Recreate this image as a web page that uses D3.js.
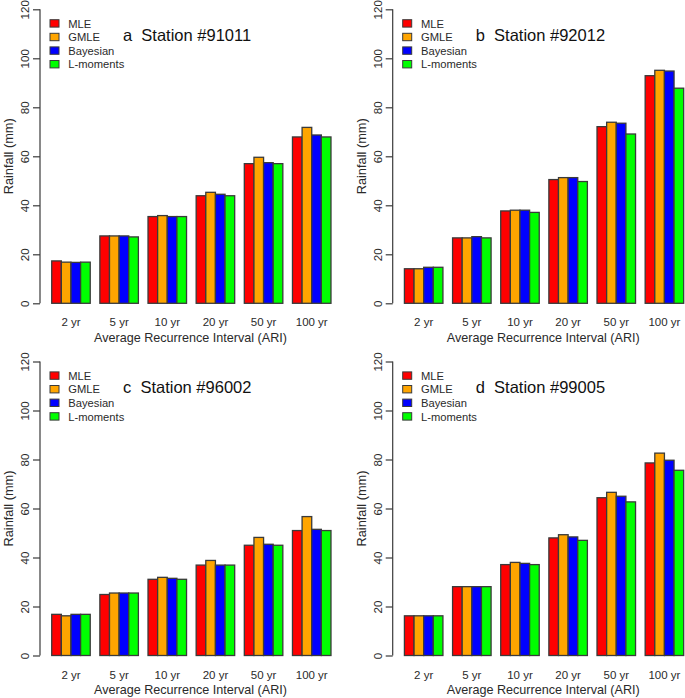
<!DOCTYPE html>
<html>
<head>
<meta charset="utf-8">
<script src="https://cdn.jsdelivr.net/npm/d3@7"></script>
<style>
  html, body { margin: 0; padding: 0; background: #fff; }
  svg { display: block; font-family: "Liberation Sans", Arial, sans-serif; }
</style>
</head>
<body>
<svg id="chart" width="685" height="698"></svg>
<script>
// ---------- data ----------
const categories = ["2 yr", "5 yr", "10 yr", "20 yr", "50 yr", "100 yr"];
const series = ["MLE", "GMLE", "Bayesian", "L-moments"];
const colors = ["#ff0000", "#ffa500", "#0000ff", "#00ff00"];
const yTicks = [0, 20, 40, 60, 80, 100, 120];

// values per station: [MLE, GMLE, Bayesian, L-moments] for each ARI
const station91011 = [
  [17.3, 16.8, 16.7, 16.8],
  [27.5, 27.5, 27.5, 27.1],
  [35.4, 35.8, 35.4, 35.4],
  [43.9, 45.3, 44.5, 43.9],
  [57.0, 59.6, 57.4, 57.0],
  [67.9, 71.8, 68.7, 67.9]
];
const station92012 = [
  [14.1, 14.1, 14.7, 14.7],
  [26.7, 26.7, 27.2, 26.7],
  [37.7, 38.0, 38.0, 37.1],
  [50.5, 51.3, 51.3, 49.7],
  [72.1, 73.9, 73.5, 69.1],
  [92.9, 95.1, 94.8, 87.8]
];
const station96002 = [
  [16.8, 16.2, 16.8, 16.8],
  [24.9, 25.5, 25.5, 25.5],
  [31.1, 31.9, 31.5, 31.1],
  [36.9, 38.8, 36.9, 36.9],
  [45.0, 48.2, 45.4, 45.0],
  [51.0, 56.7, 51.5, 51.0]
];
const station99005 = [
  [16.2, 16.2, 16.2, 16.2],
  [28.1, 28.1, 28.1, 28.1],
  [37.1, 38.0, 37.6, 37.1],
  [48.0, 49.3, 48.4, 47.0],
  [64.4, 66.6, 65.0, 62.7],
  [78.6, 82.6, 79.7, 75.6]
];

const panels = [
  { letter: "a", station: "Station #91011", data: station91011, ox: 0,     oy: 0 },
  { letter: "b", station: "Station #92012", data: station92012, ox: 352.7, oy: 0 },
  { letter: "c", station: "Station #96002", data: station96002, ox: 0,     oy: 352.2 },
  { letter: "d", station: "Station #99005", data: station99005, ox: 352.7, oy: 352.2 }
];

// ---------- drawing ----------
const svg = d3.select("#chart");
const axisCol = "#3a3a3a";
const textCol = "#2a2a2a";

panels.forEach(p => {
  const g = svg.append("g").attr("transform", `translate(${p.ox},${p.oy})`);
  const axisX = 40;
  const y = d3.scaleLinear().domain([0, 120]).range([303.3, 9.3]);
  const x0 = d3.scaleBand().domain(categories)
    .range([46.9, 335.8]).paddingInner(0.2).paddingOuter(0.1);
  const x1 = d3.scaleBand().domain(series).range([0, x0.bandwidth()]).padding(0);
  const color = d3.scaleOrdinal().domain(series).range(colors);

  // bars
  const groups = g.selectAll("g.grp").data(categories).join("g")
    .attr("class", "grp")
    .attr("transform", d => `translate(${x0(d)},0)`);
  groups.selectAll("rect").data((d, i) => series.map((s, j) => ({ s, v: p.data[i][j] })))
    .join("rect")
    .attr("x", d => x1(d.s))
    .attr("width", x1.bandwidth())
    .attr("y", d => y(d.v))
    .attr("height", d => y(0) - y(d.v))
    .attr("fill", d => color(d.s))
    .attr("stroke", axisCol)
    .attr("stroke-width", 1.3);

  // y axis
  const yAxis = d3.axisLeft(y).tickValues(yTicks).tickSize(7).tickPadding(4).tickFormat(d3.format("d"));
  const ya = g.append("g").attr("transform", `translate(${axisX},0)`).call(yAxis);
  ya.select(".domain").attr("stroke", axisCol).attr("stroke-width", 1.2)
    .attr("d", `M-0,${y(0)}V${y(120)}`);
  ya.selectAll(".tick line").attr("stroke", axisCol).attr("stroke-width", 1.2);
  ya.selectAll(".tick text")
    .attr("fill", textCol)
    .style("font-size", "11.5px")
    .attr("x", null).attr("dy", null)
    .attr("text-anchor", "middle")
    .attr("transform", "translate(-15,0) rotate(-90)")
    .attr("dy", "0.35em");

  // x tick labels (no axis line)
  const xAxis = d3.axisBottom(x0).tickSize(0).tickPadding(0);
  const xa = g.append("g").attr("transform", `translate(0,${y(0) + 15})`).call(xAxis);
  xa.select(".domain").remove();
  xa.selectAll(".tick text").attr("fill", textCol).style("font-size", "11.5px").attr("dy", "0.71em");

  // axis titles
  g.append("text")
    .attr("x", 190.5).attr("y", y(0) + 39)
    .attr("text-anchor", "middle")
    .attr("fill", textCol)
    .style("font-size", "12.6px")
    .text("Average Recurrence Interval (ARI)");
  g.append("text")
    .attr("transform", `translate(12.8,${(y(0) + y(120)) / 2}) rotate(-90)`)
    .attr("text-anchor", "middle")
    .attr("fill", textCol)
    .style("font-size", "12.8px")
    .text("Rainfall (mm)");

  // legend
  const leg = g.append("g").attr("transform", `translate(50,${y(120) + 14})`);
  series.forEach((s, i) => {
    const row = leg.append("g").attr("transform", `translate(0,${i * 13.6})`);
    row.append("rect").attr("x", 0).attr("y", -3.6).attr("width", 9).attr("height", 7.4)
      .attr("fill", colors[i]).attr("stroke", axisCol).attr("stroke-width", 1);
    row.append("text").attr("x", 18.3).attr("y", 0).attr("dy", "0.38em")
      .attr("fill", textCol).style("font-size", "11.2px").text(s);
  });

  // title
  g.append("text")
    .attr("x", 123).attr("y", y(120) + 31.4)
    .attr("fill", "#111")
    .style("font-size", "16.5px")
    .attr("xml:space", "preserve")
    .text(p.letter + "  " + p.station);
});
</script>
</body>
</html>
